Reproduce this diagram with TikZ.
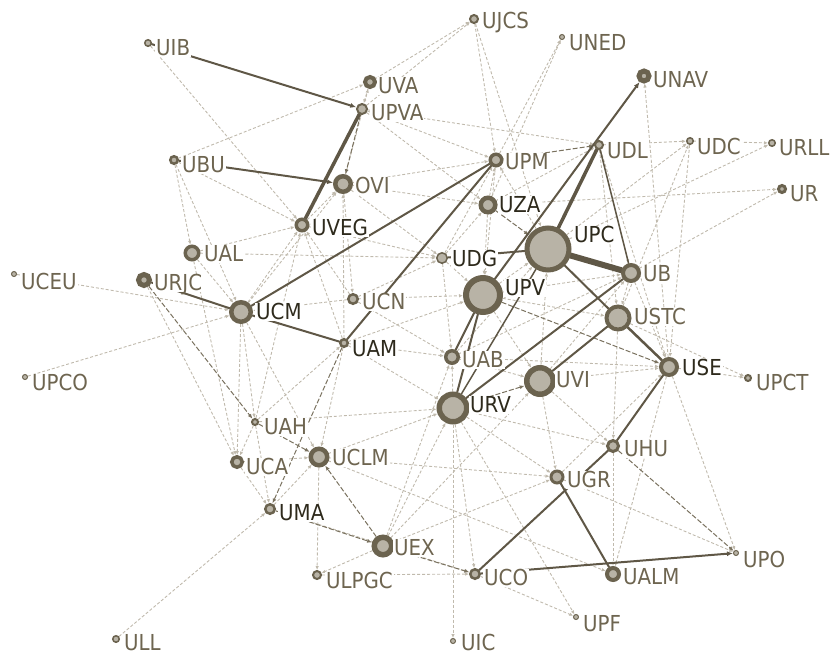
\documentclass[tikz,border=0pt]{standalone}
\usepackage{fontspec}
\setmainfont{DejaVu Sans Condensed}
\usetikzlibrary{arrows.meta}
\definecolor{ringc}{HTML}{6B634F}
\definecolor{fillc}{HTML}{B8B3A6}
\definecolor{lblc}{HTML}{6E6550}
\definecolor{lbld}{HTML}{2E2A1C}
\definecolor{solidc}{HTML}{5F5746}
\definecolor{ddc}{HTML}{7A725F}
\definecolor{ldc}{HTML}{C0BAAD}
\pgfdeclarelayer{bg}
\pgfsetlayers{bg,main}
\newcommand{\unode}[8]{%
  \pgfmathsetmacro{\uSize}{2*#4-#8}%
  \node[unv, line width=#8pt, minimum size=\uSize pt] (#1) at (#2,#3) {};
  \node[lbl, text=#7] (#1-l) at (#5,#6) {#1};
}
\begin{document}
\begin{tikzpicture}[x=1pt,y=-1pt,
  unv/.style={circle, draw=ringc, fill=fillc, inner sep=0pt},
  lbl/.style={anchor=west, fill=white, inner sep=1pt, text height=15.5pt, text depth=0pt, font=\fontsize{22}{22}\selectfont},
  sol/.style={draw=solidc, line cap=round},
  ddash/.style={draw=ddc, line width=1pt, dash pattern=on 5pt off 2pt, -{Latex[length=5pt,width=4pt]}},
  ldash/.style={draw=ldc, line width=0.9pt, dash pattern=on 3pt off 2pt, -{Latex[length=4pt,width=3.5pt]}},
  arr/.style={-{Latex[length=6pt,width=5pt]}}]
\useasboundingbox (0,0) rectangle (834,656);
% nodes: name, x, y, outer radius, label x, label y, label colour, ring width
\unode{UJCS}{474}{19}{5}{481}{21}{lblc}{2}
\unode{UNED}{562}{37}{3}{568}{43}{lblc}{1}
\unode{UIB}{148}{43}{4}{155}{48}{lblc}{1.5}
\unode{UVA}{370}{82}{7}{377}{86}{lblc}{4}
\unode{UPVA}{362}{109}{6}{370}{113}{lblc}{2}
\unode{UNAV}{644}{76}{7.5}{652}{80}{lblc}{5}
\unode{UDL}{599}{145}{5}{606}{151}{lblc}{2}
\unode{UDC}{690}{141}{4}{696}{147}{lblc}{1.5}
\unode{URLL}{772}{143}{4}{778}{148}{lblc}{1.5}
\unode{UBU}{174}{160}{5}{181}{165}{lblc}{2.5}
\unode{UPM}{496}{160}{7.5}{504}{162}{lblc}{3.5}
\unode{OVI}{343}{184}{10}{354}{186}{lblc}{4.5}
\unode{UR}{782}{189}{5}{789}{194}{lblc}{3}
\unode{UZA}{488}{205}{9.5}{498}{205}{lbld}{4.5}
\unode{UVEG}{302}{225}{7.5}{311}{228}{lbld}{3.5}
\unode{UPC}{548}{249}{23.5}{573}{235}{lbld}{5}
\unode{UAL}{192}{253}{8.5}{203}{254}{lblc}{3.5}
\unode{UDG}{442}{258}{6}{451}{259}{lbld}{1.5}
\unode{UCEU}{14}{274}{3}{20}{282}{lblc}{1}
\unode{URJC}{144}{280}{8}{153}{283}{lblc}{5}
\unode{UB}{631}{273}{10}{642}{274}{lblc}{4}
\unode{UPV}{483}{295}{20}{504}{288}{lbld}{6}
\unode{UCN}{353}{299}{6}{361}{302}{lblc}{2.5}
\unode{UCM}{241}{312}{12}{255}{312}{lbld}{4.5}
\unode{USTC}{618}{318}{13.5}{633}{317}{lblc}{4}
\unode{UAM}{344}{343}{5}{351}{349}{lbld}{2.5}
\unode{UAB}{452}{357}{8}{461}{360}{lblc}{3.5}
\unode{USE}{669}{367}{10}{681}{368}{lbld}{4}
\unode{UPCT}{748}{378}{4}{755}{383}{lblc}{2}
\unode{UPCO}{25}{377}{3}{31}{383}{lblc}{1}
\unode{UVI}{540}{381}{16}{555}{380}{lblc}{5.5}
\unode{URV}{453}{408}{16.5}{469}{405}{lbld}{5.5}
\unode{UAH}{255}{422}{4}{263}{427}{lblc}{2}
\unode{UHU}{613}{446}{7}{623}{449}{lblc}{3}
\unode{UCLM}{319}{457}{10.5}{331}{458}{lblc}{4.5}
\unode{UCA}{237}{462}{7}{245}{467}{lblc}{3.5}
\unode{UGR}{557}{477}{7.5}{566}{480}{lblc}{3}
\unode{UMA}{270}{509}{6}{278}{513}{lbld}{2.5}
\unode{UEX}{383}{546}{11.5}{393}{548}{lblc}{5.5}
\unode{UPO}{736}{553}{3}{742}{560}{lblc}{1}
\unode{UCO}{475}{574}{6}{483}{578}{lblc}{2.5}
\unode{ULPGC}{317}{575}{5}{325}{581}{lblc}{2}
\unode{UALM}{613}{574}{8}{622}{577}{lblc}{4}
\unode{UPF}{576}{617}{3}{582}{624}{lblc}{1}
\unode{ULL}{116}{639}{4}{123}{643}{lblc}{1.5}
\unode{UIC}{453}{641}{3}{460}{643}{lblc}{1}
\begin{pgfonlayer}{bg}
% light dashed edges
\foreach \a/\b in {UIB/UVEG, UBU/UVEG, UBU/UCM, UBU/UAL, UBU/UVA, UVA/UPVA, OVI/UVA, UVA/UJCS,
  UPVA/UJCS, UPVA/UDL, UPVA/UPM, UPVA/UZA, UJCS/UPC, UJCS/UPM, UPM/UNED, UZA/UNED, USE/UNAV,
  UDL/UDC, UDC/URLL, UPC/URLL, UPC/UDC, USTC/UDC, UZA/UR, UB/UR, USTC/UPCT, USE/UPCT,
  UDL/USTC, UZA/UDL, UZA/UPM, UDG/UPM, UPC/UPM, OVI/UPM, OVI/UCN, UAM/OVI, UCM/OVI, UVEG/OVI,
  OVI/UZA, OVI/UDG, UCM/UVEG, UCN/UVEG, UAM/UVEG, UAL/UVEG, UVEG/UDG, UAL/UDG, UAL/UCM,
  UCEU/UCM, UPCO/UCM, URJC/UCA, UCN/UCM, UCM/UAH, UCM/UCA, UCM/UCLM, UCN/UDG, UCN/UAB,
  UCN/UPV, UAM/UAB, UAM/URV, UAM/UPV, UAH/UAM, UAM/UCLM, UAH/URV, UAH/UCA, UAH/UMA,
  UCA/UCLM, UCA/UMA, UMA/UCLM, ULL/UMA, UCLM/ULPGC, UEX/ULPGC, UCLM/URV, UCLM/UGR,
  UCLM/UALM, UEX/URV, UEX/UVI, UEX/UGR, UEX/UAB, URV/UIC, URV/UCO, URV/UPF, URV/UGR,
  URV/UHU, URV/UAB, UVI/UGR, UVI/UHU, UVI/USE, UAB/UVI, UPV/UVI, USE/UPO, USE/UALM,
  UHU/UALM, UB/USTC, UB/USE, UVI/UB, UAB/UB, UPV/UB, UDG/UPV, UPV/USTC, UPV/UPC, UZA/UPV,
  UAB/UPC, UVI/UPC, UDG/UAB, UDG/UZA, USTC/UHU, UGR/USE, UCO/UPF, UGR/UPO, UAB/USE,
  UMA/UCO, ULPGC/UCO, UAH/UVEG, UAL/UCA, UDL/USE, UDC/USE, UPM/UPV, UDL/UB}
  \draw[ldash] (\a) -- (\b);
% dark dashed edges
\foreach \a/\b in {URJC/UAH, UAH/UCLM, UAM/UMA, UMA/UEX, UEX/UCLM, UEX/UCO, UHU/UPO,
  UPVA/OVI, UPV/USE, UZA/UPC, URV/UVI, UPM/UDL}
  \draw[ddash] (\a) -- (\b);
% solid edges
\draw[sol, line width=2pt, arr] (UIB) -- (UPVA);
\draw[sol, line width=3.5pt] (UPVA) -- (UVEG);
\draw[sol, line width=2pt, arr] (UBU) -- (OVI);
\draw[sol, line width=2pt] (UCM) -- (UPM);
\draw[sol, line width=2pt] (UAM) -- (UPM);
\draw[sol, line width=2pt] (UCM) -- (UAM);
\draw[sol, line width=2pt] (URJC) -- (UCM);
\draw[sol, line width=6pt] (UPC) -- (UB);
\draw[sol, line width=3.5pt] (UPC) -- (UDL);
\draw[sol, line width=1.5pt] (UDL) -- (UB);
\draw[sol, line width=2pt, arr] (UPV) -- (UNAV);
\draw[sol, line width=2pt] (UDG) -- (UPC);
\draw[sol, line width=2pt] (UPC) -- (USTC);
\draw[sol, line width=2.5pt] (USTC) -- (USE);
\draw[sol, line width=1.5pt] (UPC) -- (URV);
\draw[sol, line width=2pt] (UB) -- (URV);
\draw[sol, line width=2pt] (UVI) -- (USTC);
\draw[sol, line width=2pt] (UPV) -- (UAB);
\draw[sol, line width=2pt] (UPV) -- (URV);
\draw[sol, line width=2pt] (USE) -- (UHU);
\draw[sol, line width=2pt] (UHU) -- (UCO);
\draw[sol, line width=2pt] (UGR) -- (UALM);
\draw[sol, line width=2pt, arr] (UCO) -- (UPO);
\end{pgfonlayer}
\end{tikzpicture}
\end{document}
